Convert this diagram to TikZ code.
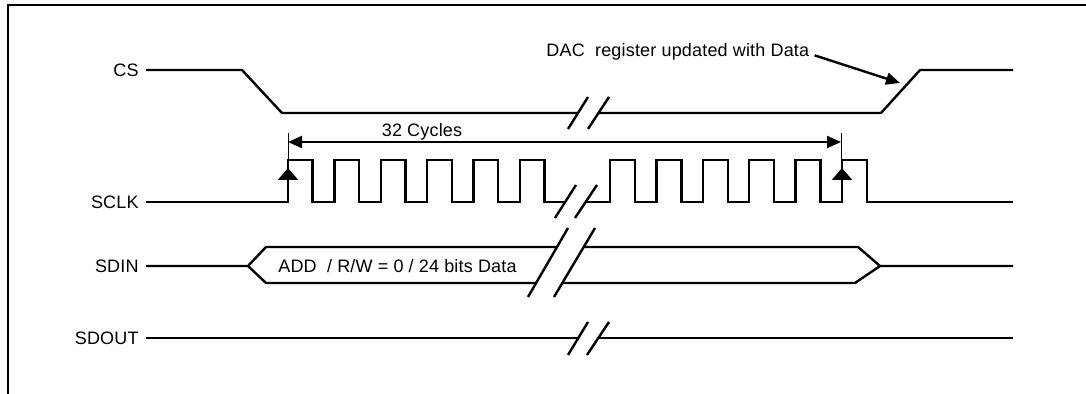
\documentclass[tikz,border=0pt]{standalone}
\usepackage{fontspec}
\setmainfont{Liberation Sans}[LetterSpace=1]
\usetikzlibrary{arrows.meta}

\tikzset{
	wave/.style={line width=1.2pt},
	brk/.style={line width=1.2pt},
	frame/.style={line width=1.1pt},
	tick/.style={line width=0.5pt},
	dim/.style={line width=1pt, {Triangle[length=7pt,width=6pt]}-{Triangle[length=7pt,width=6pt]}},
	edge/.style={line width=1.2pt, -{Triangle[length=6pt,width=10pt]}},
	sig/.style={anchor=east, inner sep=3.5pt},
	txt/.style={anchor=base west, inner sep=0pt}
}

\begin{document}
\begin{tikzpicture}[x=0.5pt, y=-0.5pt, font=\fontsize{9pt}{11pt}\selectfont]
			
			\useasboundingbox (0,0) rectangle (1086,394);
			\draw[frame] (8,394) -- (8,5) -- (1086,5);
			
			\node[sig] (cs) at (146,70) {CS};
			\node[sig] (sclk) at (146,202) {SCLK};
			\node[sig] (sdin) at (146,266) {SDIN};
			\node[sig] (sdout) at (146,338) {SDOUT};
			
			% CS
			\draw[wave] (cs.east) -- (242,70) -- (282,113) -- (578,113);
			\draw[wave] (598,113) -- (881,113) -- (920,70) -- (1013,70);
			\draw[brk] (568,129) -- (588,97) (588,129) -- (609,97);
			
			\node[txt] (dac) at (546,57) {DAC\ \ register updated with Data};
			\coordinate (upd) at (900,83);
			\draw[wave, -{Triangle[length=7pt,width=6pt]}] ([xshift=2.5pt,yshift=-1.5pt]dac.east) -- (upd);
			
			% SCLK
			\draw[wave] (sclk.east) \foreach \i in {0,...,5} {
				-- ({288+46.4*\i},202) -- ({288+46.4*\i},160) -- ({312.5+46.4*\i},160) -- ({312.5+46.4*\i},202)
			} -- (565,202);
			\draw[wave] (585,202) \foreach \i in {0,...,5} {
				-- ({610+46.4*\i},202) -- ({610+46.4*\i},160) -- ({635+46.4*\i},160) -- ({635+46.4*\i},202)
			} -- (1013,202);
			\draw[brk] (555,218) -- (576,185) (575,218) -- (597,185);
			
			\draw[tick] (288,133) -- (288,160);
			\draw[tick] (841,133) -- (841,190);
			\draw[dim] (288,142) -- (841,142);
			\node[txt, anchor=base] (cyc) at (422,137) {32 Cycles};
			\draw[edge] (288,202) -- (288,168);
			\draw[edge] (842,202) -- (842,168);
			
			% SDIN
			\draw[wave] (sdin.east) -- (248,266) -- (266,247) -- (557,247);
			\draw[wave] (248,266) -- (266,283) -- (536,283);
			\draw[wave] (583,247) -- (858,247) -- (880,266) -- (1013,266);
			\draw[wave] (562,283) -- (855,283) -- (880,266);
			\draw[brk] (528,297) -- (568,228) (554,297) -- (595,228);
			\node[txt] (add) at (278,273) {ADD\ \ / R/W = 0 / 24 bits Data};
			
			% SDOUT
			\draw[wave] (sdout.east) -- (578,338);
			\draw[wave] (598,338) -- (1013,338);
			\draw[brk] (568,355) -- (588,322) (587,355) -- (609,322);
			
\end{tikzpicture}
\end{document}
